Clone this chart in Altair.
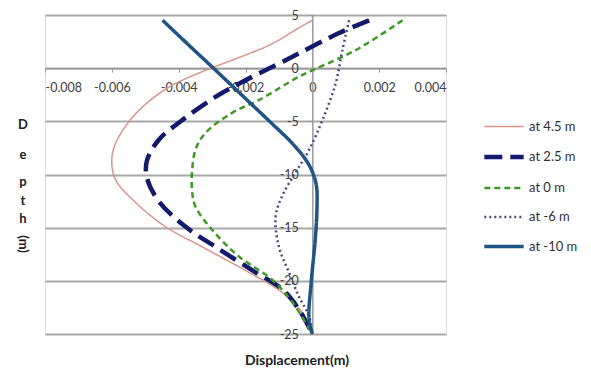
import altair as alt
import pandas as pd

labels = ["at 4.5 m", "at 2.5 m", "at 0 m", "at -6 m", "at -10 m"]

depth_45 = [4.5, 3.8, 2.3, 0.75, -0.2, -1.8, -3.7, -5.5, -7.4, -9.0, -10.6, -12.6, -14.9, -16.8, -19.2, -21.1, -23.0, -25.0]
disp_45 = [0.0, -0.0004, -0.0012, -0.0024, -0.0032, -0.0043, -0.0051, -0.0056, -0.00593, -0.006, -0.00587, -0.0053, -0.0044, -0.0033, -0.0019, -0.0009, -0.0003, 0.0]

depth_25 = [4.5, 3.3, 1.4, 0.75, -1.3, -2.7, -4.9, -6.75, -8.7, -10.3, -12.5, -14.9, -17.0, -19.2, -20.8, -22.7, -25.0]
disp_25 = [0.0017, 0.0008, -0.0004, -0.0008, -0.0021, -0.0029, -0.0039, -0.0046, -0.00495, -0.00495, -0.0046, -0.0038, -0.0028, -0.0017, -0.0009, -0.0004, 0.0]

depth_0 = [4.5, 1.7, -0.2, -0.8, -3.0, -4.2, -6.1, -7.7, -9.8, -11.5, -13.0, -15.2, -17.7, -19.9, -22.0, -25.0]
disp_0 = [0.0027, 0.0013, 0.0, -0.0004, -0.0016, -0.0024, -0.0032, -0.0035, -0.0036, -0.0036, -0.0035, -0.003, -0.0022, -0.0012, -0.0006, 0.0]

depth_m6 = [4.5, 1.7, -1.4, -4.9, -7.7, -9.8, -12.0, -14.0, -16.8, -19.2, -21.5, -23.3, -25.0]
disp_m6 = [0.0011, 0.0009, 0.0007, 0.0003, -0.0001, -0.0005, -0.0009, -0.0011, -0.001, -0.0007, -0.0004, -0.0001, 0.0]

depth_m10 = [4.5, 2.0, 0.0, -2.5, -5.0, -7.0, -8.5, -9.6, -11.0, -13.0, -16.0, -20.0, -23.5, -25.0]
disp_m10 = [-0.00448, -0.00364, -0.00296, -0.00212, -0.00128, -0.00062, -0.00022, -0.00002, 0.00012, 0.00014, 0.00009, -0.00003, -0.0001, 0.0]

x_ticks = [-0.008, -0.006, -0.004, -0.002, 0, 0.002, 0.004]
y_ticks = [5, 0, -5, -10, -15, -20, -25]

colors = ["#d9948b", "#141a6b", "#3f9a22", "#4b4b7a", "#1f5486"]
dashes = [[1, 0], [18, 8], [6, 4], [2, 3], [1, 0]]
widths = [1.5, 4.5, 2.5, 2.5, 3.5]

depths = [depth_45, depth_25, depth_0, depth_m6, depth_m10]
disps = [disp_45, disp_25, disp_0, disp_m6, disp_m10]
rows = []
for lab, ds, xs in zip(labels, depths, disps):
    for i, (d, x) in enumerate(zip(ds, xs)):
        rows.append({"series": lab, "depth": d, "disp": x, "idx": i})
df = pd.DataFrame(rows)

W, H = 401, 319
LEFT, TOP = 45, 15
FONT = "Lato"

xscale = alt.Scale(domain=[-0.008, 0.004], nice=False, zero=False)
yscale = alt.Scale(domain=[-25, 5], nice=False, zero=False)

x_zero_px = W * (0 - (-0.008)) / 0.012
y_zero_px = H * (5 - 0) / 30

lines = alt.Chart(df).mark_line(interpolate="catmull-rom").encode(
    x=alt.X("disp:Q", scale=xscale, axis=alt.Axis(
        values=x_ticks, orient="bottom", offset=-(H - y_zero_px), title=None, grid=False,
        labelExpr="'' + datum.value", domainColor="#9a9a9a", domainWidth=1.5,
        tickColor="#9a9a9a", tickSize=4, labelPadding=9, labelFontSize=12.5,
        labelColor="#404040", labelFont=FONT)),
    y=alt.Y("depth:Q", scale=yscale, axis=alt.Axis(
        values=y_ticks, orient="left", offset=-x_zero_px, title=None, grid=True,
        gridColor="#a8a8a8", gridWidth=2, labelExpr="'' + datum.value",
        domainColor="#9a9a9a", domainWidth=1.5, tickColor="#9a9a9a", tickSize=4,
        labelPadding=10, labelFontSize=12.5, labelColor="#404040", labelFont=FONT)),
    color=alt.Color("series:N", scale=alt.Scale(domain=labels, range=colors),
                    legend=alt.Legend(title=None, orient="none", legendX=437, legendY=91,
                                      symbolType="stroke", symbolSize=1550, rowPadding=1,
                                      labelFontSize=13, labelColor="#303030", labelFont=FONT,
                                      labelOffset=3)),
    strokeDash=alt.StrokeDash("series:N", scale=alt.Scale(type="ordinal", domain=labels, range=dashes), legend=None),
    strokeWidth=alt.StrokeWidth("series:N", scale=alt.Scale(type="ordinal", domain=labels, range=widths), legend=None),
    order="idx:Q",
)


def txt(s, x, y, size=13, angle=0):
    return alt.Chart(pd.DataFrame({"t": [s]})).mark_text(
        fontWeight="bold", fontSize=size, font=FONT, color="#202020", angle=angle,
        align="center", baseline="middle").encode(
        text="t:N", x=alt.value(x - LEFT), y=alt.value(y - TOP))


title_layers = [txt("Displacement(m)", 297, 361, size=14)]
for ch, yy in zip(["D", "e", "p", "t", "h"], [125, 155, 182, 201, 219]):
    title_layers.append(txt(ch, 23, yy))
title_layers.append(txt("(m)", 23, 244, angle=90))

chart = alt.layer(lines, *title_layers).properties(
    width=W, height=H,
    autosize=alt.AutoSizeParams(type="none"),
    padding={"left": LEFT, "top": TOP, "right": 591 - LEFT - W, "bottom": 377 - TOP - H},
).configure_view(stroke=None).configure(background="white")

chart.save("out.html", embed_options={"renderer": "svg", "actions": False})
